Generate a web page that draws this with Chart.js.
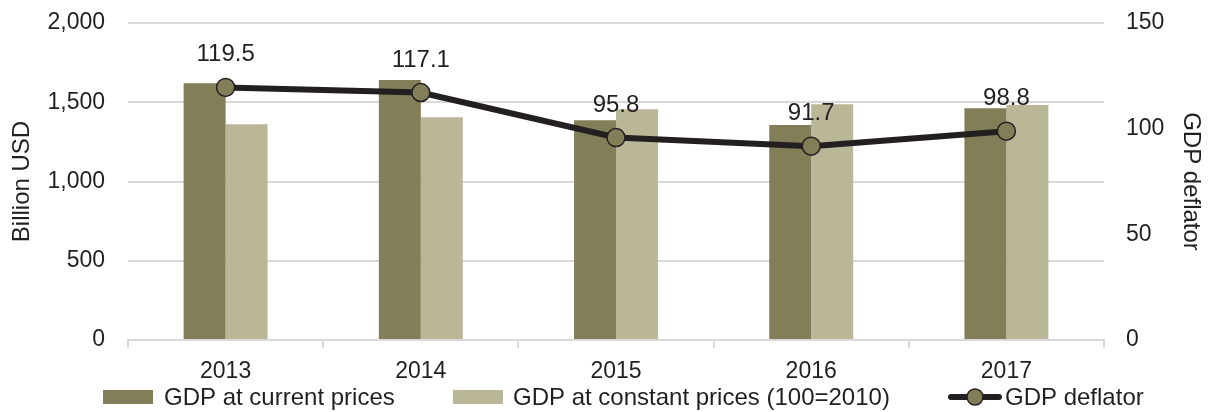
<!DOCTYPE html>
<html>
<head>
<meta charset="utf-8">
<script src="https://cdn.jsdelivr.net/npm/chart.js@4/dist/chart.umd.min.js"></script>
<style>
  html, body { margin: 0; padding: 0; background: #fff; overflow: hidden; }
  #gdp-chart { display: block; }
</style>
</head>
<body>
<canvas id="gdp-chart" width="1208" height="412"></canvas>
<script>
const years = ['2013', '2014', '2015', '2016', '2017'];
const gdpCurrent = [1620, 1640, 1386, 1357, 1462];
const gdpConstant = [1361, 1405, 1456, 1487, 1483];
const gdpDeflator = [119.5, 117.1, 95.8, 91.7, 98.8];
const leftTicks = [0, 500, 1000, 1500, 2000];
const rightTicks = [0, 50, 100, 150];

const FONT = "'Liberation Sans', Arial, sans-serif";
const TXT = '#231f20';
const GRID = '#d9d9d9';
const C_CURRENT = '#827e58';
const C_CONSTANT = '#bab698';

// labels above the deflator points
const pointLabels = {
    id: 'pointLabels',
    afterDatasetsDraw(chart) {
        const ctx = chart.ctx;
        const meta = chart.getDatasetMeta(0);
        ctx.save();
        ctx.font = '24px ' + FONT;
        ctx.fillStyle = TXT;
        ctx.textAlign = 'center';
        ctx.textBaseline = 'alphabetic';
        meta.data.forEach((pt, i) => {
            ctx.fillText(gdpDeflator[i].toFixed(1), pt.x, pt.y - 26);
        });
        ctx.restore();
    }
};

// legend drawn along the bottom
const bottomLegend = {
    id: 'bottomLegend',
    afterDraw(chart) {
        const ctx = chart.ctx;
        const y = 397;
        ctx.save();
        ctx.font = '24px ' + FONT;
        ctx.textBaseline = 'middle';
        // current prices
        ctx.fillStyle = C_CURRENT;
        ctx.fillRect(103, y - 7, 50, 14);
        ctx.fillStyle = TXT;
        ctx.fillText(chart.data.datasets[1].label, 164, y + 1);
        // constant prices
        ctx.fillStyle = C_CONSTANT;
        ctx.fillRect(453, y - 7, 50, 14);
        ctx.fillStyle = TXT;
        ctx.fillText(chart.data.datasets[2].label, 513, y + 1);
        // deflator
        ctx.strokeStyle = TXT;
        ctx.lineWidth = 6;
        ctx.lineCap = 'round';
        ctx.beginPath();
        ctx.moveTo(951, y);
        ctx.lineTo(999, y);
        ctx.stroke();
        ctx.beginPath();
        ctx.arc(975, y, 8, 0, Math.PI * 2);
        ctx.fillStyle = C_CURRENT;
        ctx.fill();
        ctx.lineWidth = 1.5;
        ctx.stroke();
        ctx.fillStyle = TXT;
        ctx.fillText(chart.data.datasets[0].label, 1005, y + 1);
        ctx.restore();
    }
};

function noPad(axis) {
    axis.paddingTop = 0;
    axis.paddingBottom = 0;
    axis.paddingLeft = 0;
    axis.paddingRight = 0;
}

const ctx = document.getElementById('gdp-chart').getContext('2d');
new Chart(ctx, {
    data: {
        labels: years,
        datasets: [
            {
                type: 'line',
                label: 'GDP deflator',
                data: gdpDeflator,
                yAxisID: 'y1',
                order: 0,
                borderColor: TXT,
                borderWidth: 6,
                tension: 0,
                pointRadius: 9,
                pointBackgroundColor: C_CURRENT,
                pointBorderColor: TXT,
                pointBorderWidth: 1.5
            },
            {
                type: 'bar',
                label: 'GDP at current prices',
                data: gdpCurrent,
                yAxisID: 'y',
                order: 1,
                backgroundColor: C_CURRENT,
                barPercentage: 1,
                categoryPercentage: 0.43
            },
            {
                type: 'bar',
                label: 'GDP at constant prices (100=2010)',
                data: gdpConstant,
                yAxisID: 'y',
                order: 2,
                backgroundColor: C_CONSTANT,
                barPercentage: 1,
                categoryPercentage: 0.43
            }
        ]
    },
    options: {
        responsive: false,
        animation: false,
        devicePixelRatio: 1,
        layout: { padding: { top: 23, bottom: 27, left: 0, right: 0 } },
        plugins: {
            legend: { display: false },
            tooltip: { enabled: false }
        },
        scales: {
            x: {
                offset: true,
                grid: {
                    display: true,
                    drawOnChartArea: false,
                    offset: true,
                    color: GRID,
                    lineWidth: 2,
                    tickLength: 8
                },
                border: { display: true, color: GRID, width: 2 },
                ticks: {
                    color: TXT,
                    font: { family: FONT, size: 23 },
                    padding: 10,
                    maxRotation: 0,
                    autoSkip: false
                },
                afterFit(axis) { axis.height = 45; noPad(axis); }
            },
            y: {
                position: 'left',
                min: 0,
                max: 2000,
                afterBuildTicks(axis) { axis.ticks = leftTicks.map(v => ({ value: v })); },
                grid: { color: GRID, lineWidth: 2, drawTicks: false },
                border: { display: false },
                ticks: {
                    color: TXT,
                    font: { family: FONT, size: 23 },
                    padding: 23,
                    callback: v => v.toLocaleString('en-US')
                },
                title: {
                    display: true,
                    text: 'Billion USD',
                    color: TXT,
                    font: { family: FONT, size: 24 },
                    padding: { top: 8, bottom: 0 }
                },
                afterFit(axis) { axis.width = 128; noPad(axis); }
            },
            y1: {
                position: 'right',
                min: 0,
                max: 150,
                afterBuildTicks(axis) { axis.ticks = rightTicks.map(v => ({ value: v })); },
                grid: { display: false, drawTicks: false },
                border: { display: false },
                ticks: { color: TXT, font: { family: FONT, size: 23 }, padding: 22 },
                title: {
                    display: true,
                    text: 'GDP deflator',
                    color: TXT,
                    font: { family: FONT, size: 24 },
                    padding: { top: 3, bottom: 0 }
                },
                afterFit(axis) { axis.width = 104; noPad(axis); }
            }
        }
    },
    plugins: [pointLabels, bottomLegend]
});
</script>
</body>
</html>
